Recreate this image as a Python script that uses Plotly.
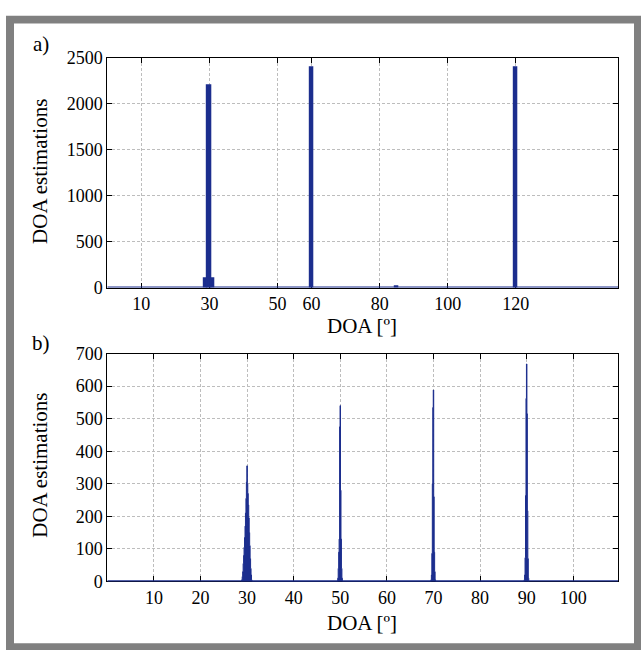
import plotly.graph_objects as go

BLUE = "#1c2e8e"
GRID = "#bdbdbd"
SERIF = "Liberation Serif"

# (a) DOA histogram, 1-degree bins (bins not listed are empty)
doa_a = [29, 30, 31, 60, 85, 120]
count_a = [100, 2200, 100, 2390, 5, 2390]
span_a = [0, 150]
xticks_a = [10, 30, 50, 60, 80, 100, 120]
yticks_a = [0, 500, 1000, 1500, 2000, 2500]

# (b) DOA histogram, 0.1-degree bins (empty bins listed around each peak)
doa_b = [28.8, 28.9, 29.0, 29.1, 29.2, 29.3, 29.4, 29.5, 29.6, 29.7, 29.8, 29.9,
         30.0, 30.1, 30.2, 30.3, 30.4, 30.5, 30.6, 30.7, 30.8, 30.9, 31.0, 31.1,
         49.4, 49.5, 49.6, 49.7, 49.8, 49.9, 50.0, 50.1, 50.2, 50.3, 50.4, 50.5,
         69.4, 69.5, 69.6, 69.7, 69.8, 69.9, 70.0, 70.1, 70.2, 70.3, 70.4, 70.5,
         89.4, 89.5, 89.6, 89.7, 89.8, 89.9, 90.0, 90.1, 90.2, 90.3, 90.4, 90.5]
count_b = [0, 5, 15, 30, 55, 80, 105, 135, 170, 210, 255, 305,
           355, 300, 270, 235, 195, 150, 110, 70, 40, 20, 5, 0,
           0, 10, 40, 90, 130, 475, 540, 280, 130, 40, 10, 0,
           0, 5, 20, 86, 300, 534, 588, 260, 90, 30, 5, 0,
           0, 5, 20, 73, 264, 562, 668, 515, 217, 70, 10, 0]
span_b = [0, 109.6]
xticks_b = [10, 20, 30, 40, 50, 60, 70, 80, 90, 100]
yticks_b = [0, 100, 200, 300, 400, 500, 600, 700]

W, H = 641, 660


def px(x):
    return x / W


def py(y):
    return 1 - y / H


fig = go.Figure()

fig.add_trace(go.Bar(x=doa_a, y=count_a, width=1, marker=dict(color=BLUE, line=dict(color=BLUE, width=1.5)),
                     xaxis="x", yaxis="y", showlegend=False))
fig.add_trace(go.Scatter(x=span_a, y=[0, 0], mode="lines", line=dict(color=BLUE, width=2.5),
                         xaxis="x", yaxis="y", showlegend=False, cliponaxis=False))

# fine-binned histogram drawn as a filled step outline
fig.add_trace(go.Scatter(x=doa_b, y=count_b, mode="lines", line=dict(color=BLUE, width=1, shape="hvh"),
                         fill="tozeroy", fillcolor=BLUE, xaxis="x2", yaxis="y2", showlegend=False))
fig.add_trace(go.Scatter(x=span_b, y=[0, 0], mode="lines", line=dict(color=BLUE, width=2.5),
                         xaxis="x2", yaxis="y2", showlegend=False, cliponaxis=False))

axis_common = dict(
    showline=True, linecolor="black", linewidth=1, mirror="allticks",
    ticks="inside", ticklen=5, tickcolor="black", tickwidth=1,
    showgrid=True, gridcolor=GRID, griddash="3px,2px", gridwidth=1,
    zeroline=False, layer="below traces",
    tickfont=dict(family=SERIF, size=18, color="black"),
)

x_dom = [px(107.3), px(618)]

fig.update_layout(
    width=W, height=H,
    margin=dict(l=0, r=0, t=0, b=0),
    paper_bgcolor="white", plot_bgcolor="white",
    bargap=0, barmode="overlay",
    xaxis=dict(domain=x_dom, range=span_a, tickvals=xticks_a, anchor="y", **axis_common),
    yaxis=dict(domain=[py(286.3), py(49.3)], range=[0, 2500], tickvals=yticks_a, anchor="x", **axis_common),
    xaxis2=dict(domain=x_dom, range=span_b, tickvals=xticks_b, anchor="y2", **axis_common),
    yaxis2=dict(domain=[py(589.3), py(354.3)], range=[0, 700], tickvals=yticks_b, anchor="x2", **axis_common),
)

# grey frame around the figure
fig.add_shape(type="rect", xref="paper", yref="paper", x0=px(6), x1=1, y0=0, y1=py(6),
              fillcolor="#808080", line=dict(width=0), layer="below")
fig.add_shape(type="rect", xref="paper", yref="paper", x0=px(14), x1=px(634), y0=py(653), y1=py(14),
              fillcolor="white", line=dict(width=0), layer="below")

title_font = dict(family=SERIF, size=21, color="black")
annotations = [
    dict(text="a)", x=px(41), y=py(35)),
    dict(text="b)", x=px(41), y=py(343)),
    dict(text="DOA [º]", x=px(362), y=py(326)),
    dict(text="DOA [º]", x=px(362), y=py(632)),
    dict(text="DOA estimations", x=px(40), y=py(167), textangle=-90),
    dict(text="DOA estimations", x=px(40), y=py(470), textangle=-90),
]
for a in annotations:
    fig.add_annotation(xref="paper", yref="paper", showarrow=False, font=title_font,
                       xanchor="center", yanchor="middle", **a)

fig.write_html("out.html")
